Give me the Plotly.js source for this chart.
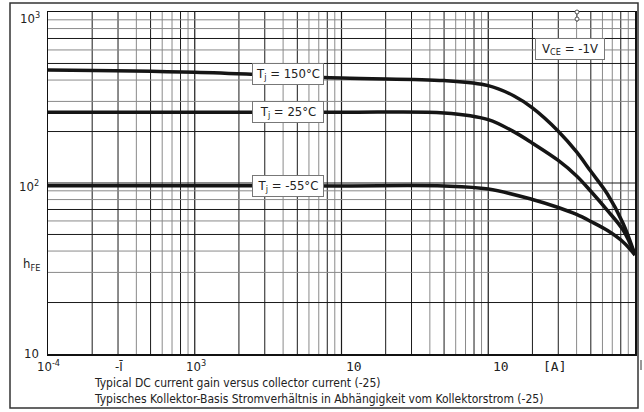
<!DOCTYPE html>
<html>
<head>
<meta charset="utf-8">
<script src="https://cdn.plot.ly/plotly-3.0.1.min.js"></script>
<style>html,body{margin:0;padding:0;background:#fff;}#chart{width:644px;height:412px;}</style>
</head>
<body>
<div id="chart"></div>
<script>
// ---- data ----
const current150 = [1e-4, 1e-3, 1e-2, 0.05, 0.1, 0.15, 0.2, 0.3, 0.4, 0.5, 0.65, 0.83, 1.0];
const gain150    = [458, 444, 411, 397, 371, 323, 275, 201, 152, 117, 86, 58, 38];
const current25  = [1e-4, 1e-3, 1e-2, 0.05, 0.1, 0.15, 0.2, 0.3, 0.4, 0.5, 0.65, 0.83, 1.0];
const gain25     = [259, 259, 259, 257, 235, 199, 171, 135.5, 110, 89.5, 69, 53, 38];
const currentM55 = [1e-4, 1e-3, 1e-2, 0.05, 0.1, 0.2, 0.3, 0.4, 0.5, 0.65, 0.83, 1.0];
const gainM55    = [96.4, 96.4, 96.2, 96, 92.2, 80.1, 71.9, 65.5, 59.6, 52.7, 45.2, 37.9];

const seriesLabels = ['T<sub>j</sub> = 150°C', 'T<sub>j</sub> = 25°C', 'T<sub>j</sub> = -55°C'];
const conditionLabel = 'V<sub>CE</sub> = -1V';
const xTickLabels = ['10<sup>-4</sup>', '-Ī', '10<sup>3</sup>', '10', '10', '[A]'];
const yTickLabels = ['10<sup>3</sup>', '10<sup>2</sup>', 'h<sub>FE</sub>', '10'];
const captionLines = ['Typical DC current gain versus collector current (-25)',
  'Typisches Kollektor-Basis Stromverhältnis in Abhängigkeit vom Kollektorstrom (-25)'];

// ---- layout helpers ----
const W = 644, H = 412, L = 48, R = 9, T = 12, B = 58;
const pw = W - L - R, ph = H - T - B;
const px = x => (x - L) / pw;          // pixel -> paper x
const py = y => (H - B - y) / ph;      // pixel -> paper y

const FONT = "'DejaVu Sans Condensed', 'DejaVu Sans', sans-serif";
const DARK = '#1a1a1a', GREY = '#8a8a8a';

const shapes = [];
// vertical grid
const xDark = {1: true, 2: true, 3: true, 5: true, 8: true};
for (let d = -4; d < 0; d++) {
  for (let m = 2; m <= 9; m++) {
    const v = m * Math.pow(10, d);
    shapes.push({type: 'line', xref: 'x', yref: 'paper', x0: v, x1: v, y0: 0, y1: 1, layer: 'below',
      line: {color: xDark[m] ? DARK : GREY, width: 1}});
  }
  if (d > -4) {
    const v = Math.pow(10, d);
    shapes.push({type: 'line', xref: 'x', yref: 'paper', x0: v, x1: v, y0: 0, y1: 1, layer: 'below',
      line: {color: DARK, width: 1.2}});
  }
}
// horizontal grid
const yDark = {2: true, 5: true, 7: true};
for (let d = 1; d < 3; d++) {
  for (let m = 2; m <= 9; m++) {
    const v = m * Math.pow(10, d);
    shapes.push({type: 'line', xref: 'paper', yref: 'y', x0: 0, x1: 1, y0: v, y1: v, layer: 'below',
      line: {color: yDark[m] ? DARK : GREY, width: 1}});
  }
  if (d > 1) {
    const v = Math.pow(10, d);
    shapes.push({type: 'line', xref: 'paper', yref: 'y', x0: 0, x1: 1, y0: v, y1: v, layer: 'below',
      line: {color: DARK, width: 1.2}});
  }
}
// outer frame
shapes.push({type: 'rect', xref: 'paper', yref: 'paper', x0: px(10), x1: px(638), y0: py(408), y1: py(3),
  line: {color: '#333', width: 1.5}, fillcolor: 'rgba(0,0,0,0)'});
// small marks at top right
shapes.push({type: 'line', xref: 'paper', yref: 'paper', x0: px(577), x1: px(577), y0: py(22), y1: py(10),
  line: {color: '#555', width: 1}});
[12, 19].forEach(yy => shapes.push({type: 'circle', xref: 'paper', yref: 'paper',
  x0: px(575), x1: px(579), y0: py(yy + 2), y1: py(yy - 2), line: {color: '#555', width: 1}, fillcolor: '#fff'}));
shapes.push({type: 'line', xref: 'paper', yref: 'paper', x0: px(641), x1: px(641), y0: py(370), y1: py(360),
  line: {color: '#333', width: 1}});

const curveStyle = {color: '#151515', width: 3.5, shape: 'spline', smoothing: 1};
const traces = [
  {x: current150, y: gain150, mode: 'lines', line: curveStyle, hoverinfo: 'skip'},
  {x: current25, y: gain25, mode: 'lines', line: curveStyle, hoverinfo: 'skip'},
  {x: currentM55, y: gainM55, mode: 'lines', line: curveStyle, hoverinfo: 'skip'}
];

const boxFont = {family: FONT, size: 13, color: '#222'};
const annotations = [];
const boxY = [74, 112, 186];
seriesLabels.forEach((t, i) => annotations.push({
  text: t, xref: 'paper', yref: 'paper', x: px(287.5), y: py(boxY[i]), showarrow: false,
  bgcolor: '#fff', bordercolor: '#777', borderwidth: 1, borderpad: 1, width: 68, height: 18,
  font: boxFont, xanchor: 'center', yanchor: 'middle'}));
annotations.push({text: conditionLabel, xref: 'paper', yref: 'paper', x: px(569.5), y: py(49), showarrow: false,
  bgcolor: '#fff', bordercolor: '#777', borderwidth: 1, borderpad: 1, width: 66, height: 18,
  font: boxFont, xanchor: 'center', yanchor: 'middle'});

const xTickPos = [48, 119, 196, 354, 501, 554];
const xMono = [false, false, false, true, true, true];
xTickLabels.forEach((t, i) => annotations.push({
  text: t, xref: 'paper', yref: 'paper', x: px(xTickPos[i]), y: py(366), showarrow: false,
  xanchor: 'center', yanchor: 'middle',
  font: {family: xMono[i] ? "'DejaVu Sans Mono', monospace" : FONT, size: 13, color: '#222'}}));

const yTickPos = [[30, 18], [29, 186], [31, 264], [31, 353]];
yTickLabels.forEach((t, i) => annotations.push({
  text: t, xref: 'paper', yref: 'paper', x: px(yTickPos[i][0]), y: py(yTickPos[i][1]), showarrow: false,
  xanchor: 'center', yanchor: 'middle', font: {family: FONT, size: 13, color: '#222'}}));

const capY = [383, 399];
captionLines.forEach((t, i) => annotations.push({
  text: t, xref: 'paper', yref: 'paper', x: px(92), y: py(capY[i]), showarrow: false,
  xanchor: 'left', yanchor: 'middle', font: {family: FONT, size: 12, color: '#222'}}));

const layout = {
  width: W, height: H,
  margin: {l: L, r: R, t: T, b: B, pad: 0},
  paper_bgcolor: '#fff', plot_bgcolor: '#fff',
  showlegend: false,
  xaxis: {type: 'log', range: [-4, 0], showgrid: false, zeroline: false, showticklabels: false, ticks: '',
    showline: true, mirror: true, linecolor: '#111', linewidth: 1.5, fixedrange: true},
  yaxis: {type: 'log', range: [1, 3], showgrid: false, zeroline: false, showticklabels: false, ticks: '',
    showline: true, mirror: true, linecolor: '#111', linewidth: 1.5, fixedrange: true},
  shapes: shapes,
  annotations: annotations
};

Plotly.newPlot('chart', traces, layout, {staticPlot: true, displayModeBar: false});
</script>
</body>
</html>
